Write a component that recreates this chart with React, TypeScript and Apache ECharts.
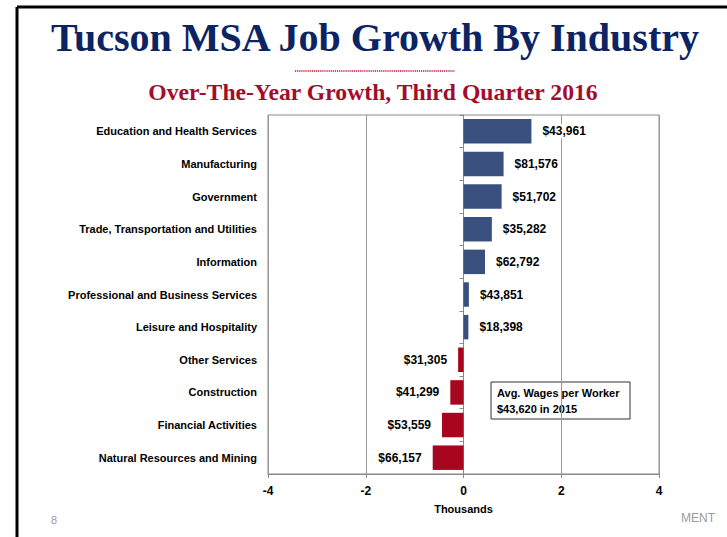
import React, { useEffect, useRef } from "react";
import * as echarts from "echarts";

const titleText = "Tucson MSA Job Growth By Industry";
const subtitleText = "Over-The-Year Growth, Third Quarter 2016";
const categories = [
  "Education and Health Services",
  "Manufacturing",
  "Government",
  "Trade, Transportation and Utilities",
  "Information",
  "Professional and Business Services",
  "Leisure and Hospitality",
  "Other Services",
  "Construction",
  "Financial Activities",
  "Natural Resources and Mining",
];
const growthThousands = [1.39, 0.82, 0.78, 0.58, 0.44, 0.11, 0.1, -0.11, -0.27, -0.44, -0.63];
const avgWages = ["$43,961", "$81,576", "$51,702", "$35,282", "$62,792", "$43,851", "$18,398", "$31,305", "$41,299", "$53,559", "$66,157"];
const xMin = -4;
const xMax = 4;
const xStep = 2;
const xName = "Thousands";
const noteLines = ["Avg. Wages per Worker", "$43,620 in 2015"];
const pageNumber = "8";
const footerText = "MENT";

const BLUE = "#39507f";
const RED = "#a8051f";
const SANS = "Arial, 'Liberation Sans', sans-serif";
const SERIF = "'Times New Roman', 'Liberation Serif', serif";

export default function App() {
  const ref = useRef<HTMLDivElement>(null);
  useEffect(() => {
    if (!ref.current) return;
    const chart = echarts.init(ref.current, null, { renderer: "svg" });
    const data = growthThousands.map((v, i) => ({
      value: v,
      itemStyle: { color: v >= 0 ? BLUE : RED },
      label: {
        show: true,
        position: v >= 0 ? "right" : "left",
        formatter: avgWages[i],
      },
    }));
    chart.setOption({
      animation: false,
      backgroundColor: "#fff",
      grid: {
        left: 268,
        right: 68,
        top: 115,
        bottom: 63,
        show: true,
        borderColor: "#8a8a8a",
        borderWidth: 1,
        backgroundColor: "transparent",
      },
      xAxis: {
        type: "value",
        min: xMin,
        max: xMax,
        interval: xStep,
        axisLine: { show: true, lineStyle: { color: "#8a8a8a" } },
        axisTick: { show: true, length: 4, lineStyle: { color: "#8a8a8a" } },
        splitLine: { show: true, lineStyle: { color: "#9a9a9a", width: 1 } },
        axisLabel: {
          color: "#000",
          fontWeight: "bold",
          fontSize: 12,
          fontFamily: SANS,
          margin: 11,
        },
        name: xName,
        nameLocation: "middle",
        nameGap: 29,
        nameTextStyle: { color: "#000", fontWeight: "bold", fontSize: 11, fontFamily: SANS },
      },
      yAxis: [
        {
          type: "category",
          data: categories,
          inverse: true,
          position: "left",
          axisLine: { show: false, onZero: false },
          axisTick: { show: false },
          splitLine: { show: false },
          axisLabel: {
            color: "#000",
            fontWeight: "bold",
            fontSize: 11,
            fontFamily: SANS,
            margin: 11,
          },
        },
        {
          type: "category",
          data: categories,
          inverse: true,
          position: "left",
          axisLine: { show: true, onZero: true, lineStyle: { color: "#8a8a8a" } },
          axisTick: { show: true, length: 4, lineStyle: { color: "#8a8a8a" } },
          axisLabel: { show: false },
          splitLine: { show: false },
        },
      ],
      series: [
        {
          type: "bar",
          yAxisIndex: 0,
          data,
          barCategoryGap: "25%",
          label: {
            show: true,
            distance: 10,
            color: "#000",
            fontWeight: "bold",
            fontSize: 12,
            fontFamily: SANS,
            backgroundColor: "#fff",
            padding: [1, 1],
          },
        },
      ],
      graphic: [
        { type: "line", shape: { x1: 17, y1: 7, x2: 727, y2: 7 }, style: { stroke: "#000", lineWidth: 3 } },
        { type: "line", shape: { x1: 17, y1: 7, x2: 17, y2: 537 }, style: { stroke: "#000", lineWidth: 3 } },
        {
          type: "text",
          x: 375,
          y: 37,
          style: {
            text: titleText,
            fill: "#0c2463",
            font: `bold 40px ${SERIF}`,
            align: "center",
            verticalAlign: "middle",
          },
        },
        {
          type: "line",
          shape: { x1: 295, y1: 71, x2: 455, y2: 71 },
          style: { stroke: "#c0102f", lineWidth: 1.3, lineDash: [1.2, 0.9] },
        },
        {
          type: "text",
          x: 373,
          y: 92,
          style: {
            text: subtitleText,
            fill: "#a30d2d",
            font: `bold 23.7px ${SERIF}`,
            align: "center",
            verticalAlign: "middle",
          },
        },
        {
          type: "rect",
          shape: { x: 491, y: 382, width: 139, height: 37 },
          style: { fill: "#fff", stroke: "#333", lineWidth: 1 },
        },
        {
          type: "text",
          x: 497,
          y: 393,
          style: { text: noteLines[0], fill: "#000", font: `bold 11px ${SANS}`, verticalAlign: "middle" },
        },
        {
          type: "text",
          x: 497,
          y: 409,
          style: { text: noteLines[1], fill: "#000", font: `bold 11px ${SANS}`, verticalAlign: "middle" },
        },
        {
          type: "text",
          x: 54,
          y: 520,
          style: { text: pageNumber, fill: "#9a9a9a", font: `11px ${SANS}`, align: "center", verticalAlign: "middle" },
        },
        {
          type: "text",
          x: 715,
          y: 518,
          style: { text: footerText, fill: "#9a9a9a", font: `12px ${SANS}`, align: "right", verticalAlign: "middle" },
        },
      ],
    });
    return () => chart.dispose();
  }, []);
  return <div ref={ref} style={{ position: "fixed", left: 0, top: 0, width: 727, height: 537 }} />;
}
